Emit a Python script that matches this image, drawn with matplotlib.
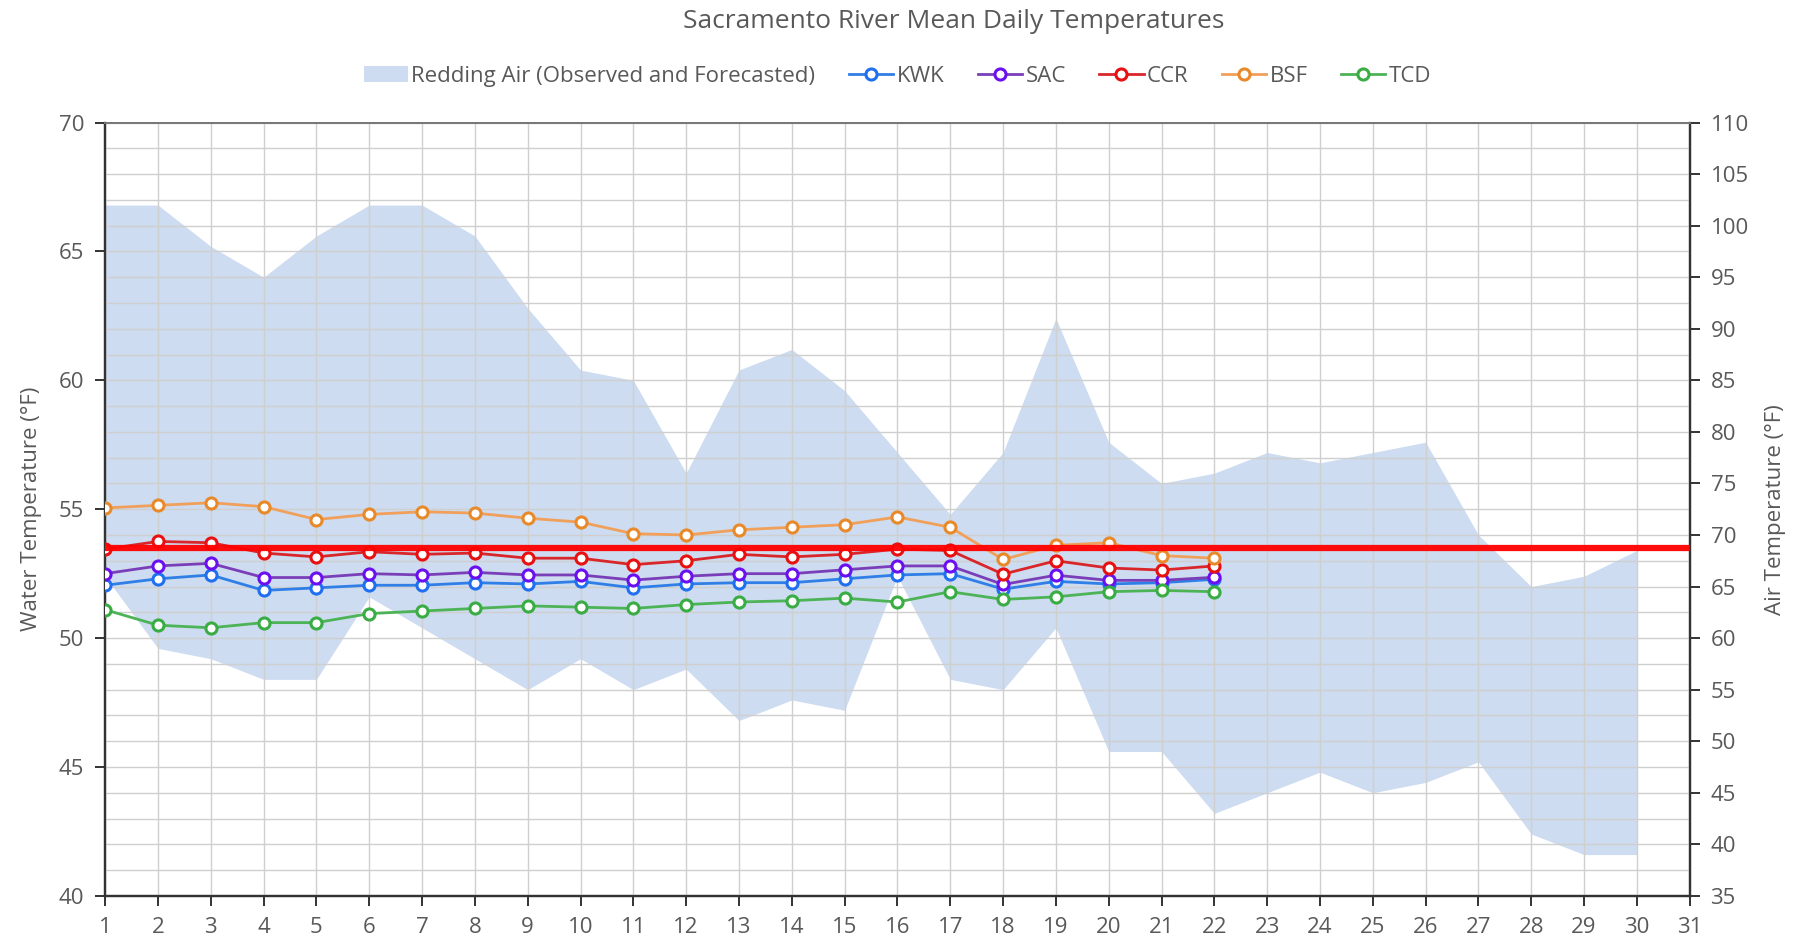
import matplotlib
matplotlib.use("Agg")
import matplotlib.pyplot as plt
from matplotlib.patches import Patch
from matplotlib.lines import Line2D
from matplotlib.ticker import MultipleLocator

plt.rcParams["font.family"] = ["Open Sans", "DejaVu Sans"]

# days of the month
days = list(range(1, 31))
water_days = list(range(1, 23))

# Redding air temperature band (right axis, °F)
air_high = [102, 102, 98, 95, 99, 102, 102, 99, 92, 86, 85, 76, 86, 88, 84,
            78, 72, 78, 91, 79, 75, 76, 78, 77, 78, 79, 70, 65, 66, 68.5]
air_low = [66, 59, 58, 56, 56, 64, 61, 58, 55, 58, 55, 57, 52, 54, 53,
           66, 56, 55, 61, 49, 49, 43, 45, 47, 45, 46, 48, 41, 39, 39]

# water temperatures (left axis, °F)
kwk = [52.05, 52.3, 52.45, 51.85, 51.95, 52.05, 52.05, 52.15, 52.1, 52.2, 51.95,
       52.1, 52.15, 52.15, 52.3, 52.45, 52.5, 51.9, 52.2, 52.1, 52.15, 52.28]
sac = [52.5, 52.8, 52.9, 52.35, 52.35, 52.5, 52.45, 52.55, 52.45, 52.45, 52.25,
       52.4, 52.5, 52.5, 52.65, 52.8, 52.8, 52.08, 52.44, 52.24, 52.24, 52.36]
ccr = [53.45, 53.75, 53.7, 53.3, 53.15, 53.35, 53.25, 53.3, 53.1, 53.1, 52.85,
       53.0, 53.25, 53.15, 53.25, 53.45, 53.4, 52.48, 53.0, 52.72, 52.64, 52.8]
bsf = [55.05, 55.15, 55.25, 55.1, 54.6, 54.8, 54.9, 54.85, 54.65, 54.5, 54.05,
       54.0, 54.2, 54.3, 54.4, 54.7, 54.3, 53.05, 53.6, 53.7, 53.2, 53.1]
tcd = [51.1, 50.5, 50.4, 50.6, 50.6, 50.95, 51.05, 51.15, 51.25, 51.2, 51.15,
       51.3, 51.4, 51.45, 51.55, 51.4, 51.8, 51.5, 51.6, 51.8, 51.85, 51.8]

threshold = 53.5

series = [
    ("KWK", kwk, "#2f7fe6", "#1f6ff0"),
    ("SAC", sac, "#7a3fb8", "#6a10f0"),
    ("CCR", ccr, "#d9262a", "#e81010"),
    ("BSF", bsf, "#f0a05a", "#e8892a"),
    ("TCD", tcd, "#4cb356", "#3aac44"),
]

band_color = "#cddcf0"
grid_color = "#cfcfcf"
text_color = "#595959"

fig = plt.figure(figsize=(18.13, 9.43), dpi=100)
ax1 = fig.add_axes([0.058, 0.050, 0.874, 0.820])
ax2 = ax1.twinx()

# air band on the right axis, drawn behind the water axis
ax2.fill_between(days, air_low, air_high, color=band_color, linewidth=0, zorder=1)
ax2.set_ylim(35, 110)
ax2.yaxis.set_major_locator(MultipleLocator(5))

ax1.set_zorder(ax2.get_zorder() + 1)
ax1.patch.set_visible(False)

ax1.set_xlim(1, 31)
ax1.set_ylim(40, 70)
ax1.set_xticks(range(1, 32))
ax1.yaxis.set_major_locator(MultipleLocator(5))
ax1.yaxis.set_minor_locator(MultipleLocator(1))
ax1.grid(which="both", axis="y", color=grid_color, linewidth=1.0, zorder=0)
ax1.grid(which="major", axis="x", color=grid_color, linewidth=1.0, zorder=0)
ax1.tick_params(axis="y", which="minor", length=0)
ax1.set_axisbelow(True)

for name, vals, lc, mc in series:
    ax1.plot(water_days, vals, color=lc, linewidth=2.0, marker="o",
             markersize=8, markerfacecolor="white", markeredgecolor=mc,
             markeredgewidth=2.2, zorder=3)

ax1.plot([1, 31], [threshold, threshold], color="#ff0000", linewidth=4.5,
         alpha=0.95, zorder=4, solid_capstyle="butt")

for ax in (ax1, ax2):
    for side in ("left", "right", "bottom"):
        ax.spines[side].set_color("#333333")
        ax.spines[side].set_linewidth(1.6)
    ax.spines["top"].set_color("#777777")
    ax.spines["top"].set_linewidth(1.4)
    ax.tick_params(axis="both", which="major", colors="#333333", labelcolor=text_color,
                   labelsize=16, length=7, width=1.4, direction="out", pad=8)

ax1.set_ylabel("Water Temperature (°F)", fontsize=16, color=text_color, labelpad=12)
ax2.set_ylabel("Air Temperature (°F)", fontsize=16, color=text_color, labelpad=12)

fig.text(0.526, 0.977, "Sacramento River Mean Daily Temperatures", ha="center",
         va="center", fontsize=19, color=text_color)

handles = [Patch(facecolor=band_color, edgecolor="none",
                 label="Redding Air (Observed and Forecasted)")]
for name, vals, lc, mc in series:
    handles.append(Line2D([], [], color=lc, linewidth=2.0, marker="o", markersize=8,
                          markerfacecolor="white", markeredgecolor=mc,
                          markeredgewidth=2.2, label=name))
fig.legend(handles=handles, loc="center", bbox_to_anchor=(0.495, 0.919), ncol=6,
           frameon=False, fontsize=16, handlelength=2.0, columnspacing=1.5,
           handletextpad=0.15, labelcolor=text_color)

fig.savefig("out.png", dpi=100)
